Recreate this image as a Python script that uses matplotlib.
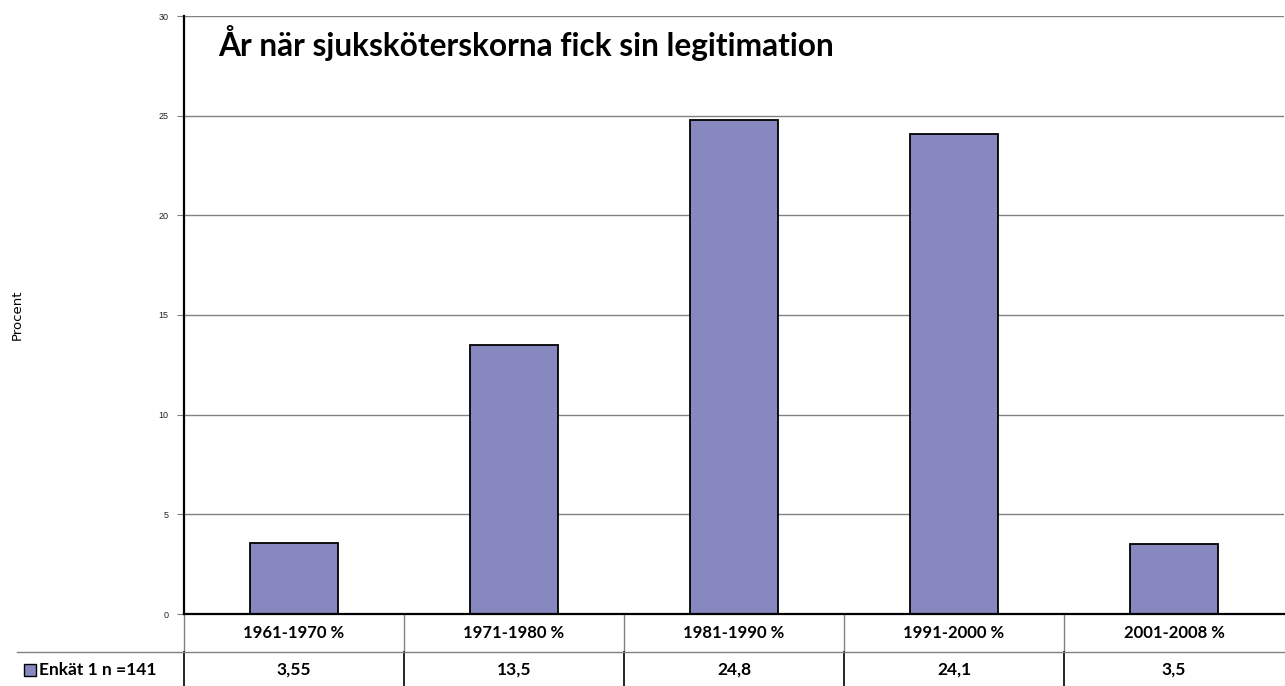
import matplotlib
matplotlib.use("Agg")
import matplotlib.pyplot as plt
import matplotlib.transforms as mtransforms
from matplotlib.lines import Line2D
from matplotlib.patches import Rectangle

# data
categories = ["1961-1970 %", "1971-1980 %", "1981-1990 %", "1991-2000 %", "2001-2008 %"]
values = [3.55, 13.5, 24.8, 24.1, 3.5]
value_labels = ["3,55", "13,5", "24,8", "24,1", "3,5"]
series_name = "Enkät 1 n =141"
title = "År när sjuksköterskorna fick sin legitimation"
yticks = [0, 5, 10, 15, 20, 25, 30]

bar_color = "#8888c0"
grid_color = "#808080"
font = "Lato"

fig = plt.figure(figsize=(12.85, 6.86), dpi=100)
ax = fig.add_axes([184 / 1285, 72 / 686, 1100 / 1285, 598 / 686])

x = list(range(len(categories)))
ax.bar(x, values, width=0.4, color=bar_color, edgecolor="black", linewidth=1.3, zorder=3)

ax.set_xlim(-0.5, len(categories) - 0.5)
ax.set_ylim(0, 30)
ax.set_yticks(yticks)
ax.set_yticklabels([str(t) for t in yticks], fontsize=6.5, family="Liberation Sans", color="#222222")
ax.tick_params(axis="y", direction="out", length=5, color=grid_color, pad=6)
ax.set_xticks([])
ax.yaxis.grid(True, color=grid_color, linewidth=1, zorder=0)
for s in ["top", "right"]:
    ax.spines[s].set_visible(False)
ax.spines["left"].set_linewidth(1.6)
ax.spines["bottom"].set_linewidth(1.6)
ax.spines["bottom"].set_zorder(4)

ax.text(0.031, 0.955, title, transform=ax.transAxes, fontsize=22.8, fontweight="bold",
        family=font, ha="left", va="center")

fig.text(17 / 1285, 1 - 315 / 686, "Procent", rotation=90, fontsize=9.5,
         family="DejaVu Sans", ha="center", va="center")

# data table under the axes
trans = mtransforms.blended_transform_factory(ax.transData, ax.transAxes)
px = 1 / 598
row_split = -38 * px
bottom = -75 * px
head_y = -19 * px
val_y = -56 * px

for i, (cat, lab) in enumerate(zip(categories, value_labels)):
    ax.text(i, head_y, cat, transform=trans, ha="center", va="center",
            fontsize=12, fontweight="bold", family=font, clip_on=False)
    ax.text(i, val_y, lab, transform=trans, ha="center", va="center",
            fontsize=12.5, fontweight="bold", family=font, clip_on=False)

for b in [i - 0.5 for i in range(len(categories))]:
    ax.add_line(Line2D([b, b], [0, row_split], transform=trans, color=grid_color,
                       linewidth=1, clip_on=False))
    ax.add_line(Line2D([b, b], [row_split, bottom], transform=trans, color="black",
                       linewidth=1.2, clip_on=False))

ax.add_line(Line2D([-167 / 1100, 1], [row_split, row_split], transform=ax.transAxes,
                   color=grid_color, linewidth=1, clip_on=False))

ax.add_patch(Rectangle((-160 / 1100, val_y - 6 * px), 12 / 1100, 12 * px,
                       transform=ax.transAxes, facecolor=bar_color, edgecolor="black",
                       linewidth=1, clip_on=False))
ax.text(-145 / 1100, val_y, series_name, transform=ax.transAxes, ha="left", va="center",
        fontsize=12.5, fontweight="bold", family=font, clip_on=False)

fig.savefig("out.png", dpi=100)
